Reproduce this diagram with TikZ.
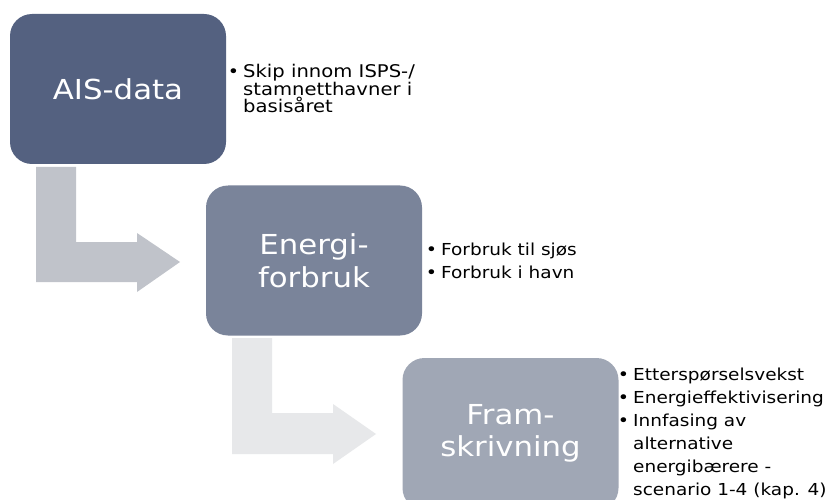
\documentclass[tikz,border=0pt]{standalone}
\usepackage{fontspec}
\setmainfont{DejaVu Sans}[FakeStretch=1.12]
\definecolor{boxA}{RGB}{84,97,128}
\definecolor{boxB}{RGB}{122,132,154}
\definecolor{boxC}{RGB}{160,167,181}
\definecolor{arrA}{RGB}{192,195,202}
\definecolor{arrB}{RGB}{231,232,234}
\newcommand{\bulmark}{\makebox[0pt][r]{\raisebox{0pt}{\fontsize{17}{17}\selectfont•}\hspace{4pt}}}
\begin{document}
\begin{tikzpicture}[x=1pt,y=-1pt,
  stage/.style={rounded corners=22pt, minimum width=216pt, minimum height=150pt,
    inner sep=0pt, text=white, font=\fontsize{27.5}{32.5}\selectfont, align=center},
  bul/.style={anchor=base west, inner sep=0pt, align=left},
  tight/.style={font=\fontsize{17.5}{17.5}\selectfont},
  loose/.style={font=\fontsize{16.5}{23}\selectfont}]
\clip (0,0) rectangle (833,500);
\fill[white] (0,0) rectangle (833,500);
% arrows
\fill[arrA] (36,167) -- (76,167) -- (76,242) -- (137,242) -- (137,233) -- (180,262)
  -- (137,292) -- (137,282) -- (36,282) -- cycle;
\fill[arrB] (232,338) -- (272,338) -- (272,413) -- (333,413) -- (333,404) -- (376,434)
  -- (333,464) -- (333,454) -- (232,454) -- cycle;
% stages
\node[stage, fill=boxA] (ais) at (118,89) {AIS-data};
\node[stage, fill=boxB] (energi) at (314,260.5) {Energi-\\forbruk};
\node[stage, fill=boxC, minimum height=152pt] (fram) at (510.5,434) {\raisebox{-2pt}{\begin{tabular}{@{}c@{}}Fram-\\skrivning\end{tabular}}};
% bullets (base = baseline of last line)
\node[bul, tight] (b1) at (243,113) {\bulmark Skip innom ISPS-/\\stamnetthavner i\\basisåret};
\node[bul, loose] (b2) at (441,278.5) {\bulmark Forbruk til sjøs\\\bulmark Forbruk i havn};
\node[bul, loose] (b3) at (633,495) {\bulmark Etterspørselsvekst\\\bulmark Energieffektivisering\\\bulmark Innfasing av\\alternative\\energibærere -\\scenario 1-4 (kap. 4)};
\end{tikzpicture}
\end{document}
